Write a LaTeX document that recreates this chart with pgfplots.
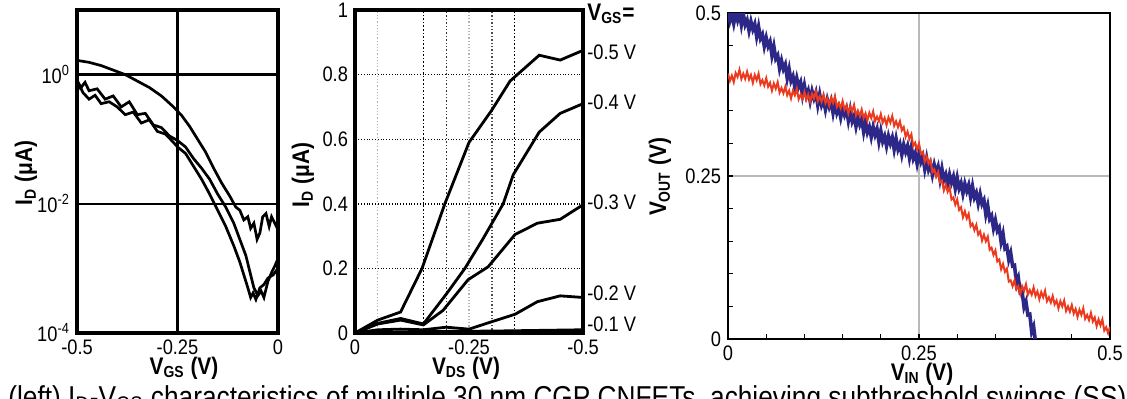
\documentclass[border=0pt]{standalone}
\usepackage{fontspec}
\setmainfont{Liberation Sans}[FakeStretch=0.87]
\usepackage{pgfplots}
\pgfplotsset{compat=1.18}
\definecolor{vblue}{RGB}{45,40,135}
\definecolor{vred}{RGB}{236,58,30}

\pgfplotstableread{
x y
0.0000 0.504
0.0025 0.488
0.0050 0.498
0.0075 0.484
0.0100 0.500
0.0125 0.489
0.0150 0.500
0.0175 0.482
0.0200 0.499
0.0225 0.482
0.0250 0.489
0.0275 0.473
0.0300 0.487
0.0325 0.475
0.0350 0.483
0.0375 0.464
0.0400 0.479
0.0425 0.461
0.0450 0.467
0.0475 0.449
0.0500 0.462
0.0525 0.449
0.0550 0.456
0.0575 0.435
0.0600 0.449
0.0625 0.430
0.0650 0.435
0.0675 0.415
0.0700 0.427
0.0725 0.414
0.0750 0.421
0.0775 0.400
0.0800 0.414
0.0825 0.396
0.0850 0.403
0.0875 0.386
0.0900 0.400
0.0925 0.387
0.0950 0.394
0.0975 0.374
0.1000 0.389
0.1025 0.373
0.1050 0.381
0.1075 0.365
0.1100 0.380
0.1125 0.369
0.1150 0.378
0.1175 0.359
0.1200 0.375
0.1225 0.359
0.1250 0.367
0.1275 0.352
0.1300 0.367
0.1325 0.356
0.1350 0.365
0.1375 0.347
0.1400 0.363
0.1425 0.347
0.1450 0.355
0.1475 0.340
0.1500 0.355
0.1525 0.344
0.1550 0.353
0.1575 0.335
0.1600 0.351
0.1625 0.334
0.1650 0.342
0.1675 0.326
0.1700 0.341
0.1725 0.329
0.1750 0.337
0.1775 0.318
0.1800 0.334
0.1825 0.317
0.1850 0.325
0.1875 0.310
0.1900 0.325
0.1925 0.313
0.1950 0.322
0.1975 0.303
0.2000 0.319
0.2025 0.303
0.2050 0.311
0.2075 0.296
0.2100 0.311
0.2125 0.300
0.2150 0.309
0.2175 0.291
0.2200 0.307
0.2225 0.291
0.2250 0.299
0.2275 0.283
0.2300 0.298
0.2325 0.287
0.2350 0.296
0.2375 0.278
0.2400 0.294
0.2425 0.277
0.2450 0.285
0.2475 0.269
0.2500 0.284
0.2525 0.272
0.2550 0.280
0.2575 0.261
0.2600 0.277
0.2625 0.260
0.2650 0.268
0.2675 0.252
0.2700 0.267
0.2725 0.255
0.2750 0.264
0.2775 0.245
0.2800 0.261
0.2825 0.244
0.2850 0.252
0.2875 0.237
0.2900 0.252
0.2925 0.240
0.2950 0.249
0.2975 0.231
0.3000 0.247
0.3025 0.231
0.3050 0.239
0.3075 0.223
0.3100 0.238
0.3125 0.227
0.3150 0.236
0.3175 0.218
0.3200 0.234
0.3225 0.217
0.3250 0.224
0.3275 0.208
0.3300 0.222
0.3325 0.207
0.3350 0.213
0.3375 0.191
0.3400 0.204
0.3425 0.184
0.3450 0.189
0.3475 0.170
0.3500 0.182
0.3525 0.166
0.3550 0.171
0.3575 0.149
0.3600 0.161
0.3625 0.139
0.3650 0.142
0.3675 0.122
0.3700 0.132
0.3725 0.112
0.3750 0.113
0.3775 0.086
0.3800 0.094
0.3825 0.071
0.3850 0.072
0.3875 0.049
0.3900 0.057
0.3925 0.037
0.3950 0.038
0.3975 0.011
0.4000 0.019
0.4020 0.000
}\bluedata

\pgfplotstableread{
x y
0.0000 0.407
0.0025 0.396
0.0050 0.404
0.0075 0.394
0.0100 0.408
0.0125 0.402
0.0150 0.413
0.0175 0.399
0.0200 0.407
0.0225 0.399
0.0250 0.410
0.0275 0.398
0.0300 0.405
0.0325 0.393
0.0350 0.405
0.0375 0.397
0.0400 0.407
0.0425 0.391
0.0450 0.397
0.0475 0.389
0.0500 0.400
0.0525 0.387
0.0550 0.393
0.0575 0.381
0.0600 0.392
0.0625 0.384
0.0650 0.394
0.0675 0.378
0.0700 0.385
0.0725 0.377
0.0750 0.387
0.0775 0.374
0.0800 0.381
0.0825 0.369
0.0850 0.381
0.0875 0.374
0.0900 0.384
0.0925 0.368
0.0950 0.375
0.0975 0.368
0.1000 0.379
0.1025 0.367
0.1050 0.375
0.1075 0.364
0.1100 0.376
0.1125 0.369
0.1150 0.380
0.1175 0.365
0.1200 0.372
0.1225 0.364
0.1250 0.375
0.1275 0.362
0.1300 0.369
0.1325 0.358
0.1350 0.370
0.1375 0.362
0.1400 0.372
0.1425 0.356
0.1450 0.362
0.1475 0.354
0.1500 0.365
0.1525 0.352
0.1550 0.358
0.1575 0.346
0.1600 0.357
0.1625 0.349
0.1650 0.359
0.1675 0.343
0.1700 0.350
0.1725 0.342
0.1750 0.352
0.1775 0.339
0.1800 0.346
0.1825 0.335
0.1850 0.347
0.1875 0.339
0.1900 0.349
0.1925 0.334
0.1950 0.341
0.1975 0.334
0.2000 0.345
0.2025 0.332
0.2050 0.339
0.2075 0.328
0.2100 0.340
0.2125 0.332
0.2150 0.342
0.2175 0.327
0.2200 0.334
0.2225 0.325
0.2250 0.334
0.2275 0.320
0.2300 0.325
0.2325 0.310
0.2350 0.318
0.2375 0.307
0.2400 0.314
0.2425 0.296
0.2450 0.301
0.2475 0.291
0.2500 0.300
0.2525 0.284
0.2550 0.287
0.2575 0.272
0.2600 0.280
0.2625 0.269
0.2650 0.275
0.2675 0.256
0.2700 0.260
0.2725 0.249
0.2750 0.256
0.2775 0.240
0.2800 0.243
0.2825 0.228
0.2850 0.237
0.2875 0.226
0.2900 0.233
0.2925 0.214
0.2950 0.217
0.2975 0.206
0.3000 0.214
0.3025 0.198
0.3050 0.202
0.3075 0.187
0.3100 0.196
0.3125 0.185
0.3150 0.192
0.3175 0.173
0.3200 0.177
0.3225 0.167
0.3250 0.175
0.3275 0.160
0.3300 0.165
0.3325 0.151
0.3350 0.160
0.3375 0.150
0.3400 0.157
0.3425 0.137
0.3450 0.140
0.3475 0.129
0.3500 0.136
0.3525 0.119
0.3550 0.122
0.3575 0.107
0.3600 0.115
0.3625 0.103
0.3650 0.108
0.3675 0.088
0.3700 0.090
0.3725 0.081
0.3750 0.090
0.3775 0.076
0.3800 0.081
0.3825 0.069
0.3850 0.081
0.3875 0.074
0.3900 0.084
0.3925 0.068
0.3950 0.075
0.3975 0.068
0.4000 0.079
0.4025 0.066
0.4050 0.073
0.4075 0.061
0.4100 0.072
0.4125 0.064
0.4150 0.074
0.4175 0.058
0.4200 0.064
0.4225 0.056
0.4250 0.066
0.4275 0.053
0.4300 0.059
0.4325 0.047
0.4350 0.058
0.4375 0.050
0.4400 0.059
0.4425 0.043
0.4450 0.050
0.4475 0.042
0.4500 0.052
0.4525 0.039
0.4550 0.046
0.4575 0.034
0.4600 0.045
0.4625 0.037
0.4650 0.047
0.4675 0.031
0.4700 0.037
0.4725 0.029
0.4750 0.040
0.4775 0.027
0.4800 0.033
0.4825 0.020
0.4850 0.030
0.4875 0.021
0.4900 0.030
0.4925 0.013
0.4950 0.018
0.4975 0.009
0.5000 0.019
}\reddata

\begin{document}
\begin{tikzpicture}
\pgfplotsset{every axis/.append style={scale only axis, anchor=south west,
  tick label style={font=\fontsize{10.5}{12}\selectfont}, major tick length=0pt}}

% ---------------- Panel 1: ID-VGS (log) ----------------
\begin{axis}[at={(38.5pt,32.5pt)}, width=100.5pt, height=161.5pt,
  xmin=-0.5, xmax=0, ymin=-4, ymax=1,
  xtick={-0.5,-0.25,0}, xticklabels={-0.5,-0.25,0},
  ytick={-4,-2,0}, yticklabels={10\textsuperscript{-4},10\textsuperscript{-2},10\textsuperscript{0}},
  grid=major, major grid style={black,line width=1.3pt},
  axis line style={line width=1.8pt}]
\addplot[black, line width=1.35pt] table {
x L
-0.5 0.22
-0.47 0.19
-0.44 0.14
-0.41 0.07
-0.38 0.0
-0.35 -0.1
-0.32 -0.2
-0.29 -0.33
-0.26 -0.5
-0.24 -0.63
-0.22 -0.8
-0.2 -1.0
-0.18 -1.2
-0.16 -1.45
-0.14 -1.68
-0.12 -1.88
-0.105 -2.05
-0.095 -2.1
-0.085 -2.25
-0.075 -2.2
-0.068 -2.38
-0.06 -2.3
-0.052 -2.55
-0.045 -2.45
-0.038 -2.2
-0.03 -2.15
-0.022 -2.35
-0.016 -2.2
-0.008 -2.3
0 -2.4
};
\addplot[black, line width=1.35pt] table {
x L
-0.5 -0.1
-0.49 -0.2
-0.48 -0.12
-0.47 -0.25
-0.45 -0.22
-0.43 -0.38
-0.41 -0.33
-0.39 -0.5
-0.37 -0.42
-0.35 -0.62
-0.33 -0.6
-0.31 -0.78
-0.29 -0.82
-0.27 -0.95
-0.25 -1.02
-0.23 -1.12
-0.21 -1.3
-0.19 -1.45
-0.17 -1.62
-0.15 -1.85
-0.13 -2.05
-0.11 -2.3
-0.095 -2.55
-0.08 -2.8
-0.07 -3.05
-0.06 -3.3
-0.05 -3.42
-0.042 -3.35
-0.035 -3.45
-0.025 -3.2
-0.015 -3.05
-0.007 -2.95
0 -2.85
};
\addplot[black, line width=1.35pt] table {
x L
-0.5 -0.3
-0.495 -0.15
-0.485 -0.28
-0.47 -0.38
-0.455 -0.32
-0.44 -0.45
-0.42 -0.42
-0.4 -0.5
-0.38 -0.62
-0.36 -0.58
-0.34 -0.75
-0.32 -0.7
-0.3 -0.88
-0.28 -0.92
-0.26 -1.05
-0.25 -1.12
-0.23 -1.22
-0.21 -1.42
-0.19 -1.62
-0.17 -1.85
-0.15 -2.1
-0.13 -2.35
-0.11 -2.65
-0.095 -2.9
-0.085 -3.1
-0.075 -3.3
-0.068 -3.45
-0.062 -3.38
-0.055 -3.48
-0.045 -3.3
-0.035 -3.25
-0.025 -3.15
-0.012 -3.1
0 -3.0
};
\end{axis}

% ---------------- Panel 2: ID-VDS ----------------
\begin{axis}[at={(177.5pt,32.5pt)}, width=114pt, height=161.5pt,
  xmin=-0.5, xmax=0, x dir=reverse, ymin=0, ymax=1,
  xtick={0,-0.25,-0.5}, xticklabels={0,-0.25,-0.5},
  ytick={0,0.2,0.4,0.6,0.8,1}, yticklabels={0,0.2,0.4,0.6,0.8,1},
  ymajorgrids, major grid style={black,densely dotted,line width=0.7pt},
  axis line style={line width=2pt}]
\draw[gray!60, densely dotted, line width=0.6pt] (axis cs:-0.05,0) -- (axis cs:-0.05,1);
\draw[black, densely dotted, line width=0.8pt] (axis cs:-0.15,0) -- (axis cs:-0.15,1);
\draw[black!80, densely dotted, line width=0.7pt] (axis cs:-0.2,0) -- (axis cs:-0.2,1);
\draw[gray!60, densely dotted, line width=0.6pt] (axis cs:-0.25,0) -- (axis cs:-0.25,1);
\draw[black!70, densely dotted, line width=0.7pt] (axis cs:-0.3,0) -- (axis cs:-0.3,1);
\draw[black, densely dotted, line width=0.8pt] (axis cs:-0.35,0) -- (axis cs:-0.35,1);
\addplot[black, line width=1.4pt] coordinates {(0,0) (-0.05,0.04) (-0.1,0.065) (-0.147,0.2) (-0.197,0.4) (-0.25,0.59) (-0.3,0.69) (-0.34,0.78) (-0.404,0.86) (-0.45,0.845) (-0.5,0.875)};
\addplot[black, line width=1.4pt] coordinates {(0,0) (-0.05,0.03) (-0.1,0.045) (-0.15,0.028) (-0.2,0.12) (-0.241,0.2) (-0.28,0.29) (-0.325,0.4) (-0.347,0.49) (-0.404,0.622) (-0.45,0.68) (-0.5,0.71)};
\addplot[black, line width=1.4pt] coordinates {(0,0) (-0.05,0.028) (-0.1,0.04) (-0.15,0.025) (-0.193,0.07) (-0.248,0.165) (-0.292,0.205) (-0.351,0.305) (-0.4,0.34) (-0.45,0.352) (-0.5,0.397)};
\addplot[black, line width=1.4pt] coordinates {(0,0) (-0.05,0.01) (-0.1,0.012) (-0.15,0.01) (-0.2,0.018) (-0.25,0.012) (-0.3,0.035) (-0.351,0.058) (-0.4,0.097) (-0.45,0.115) (-0.5,0.11)};
\addplot[black, line width=1.4pt] coordinates {(0,0) (-0.1,0.003) (-0.2,0.005) (-0.3,0.006) (-0.4,0.008) (-0.5,0.01)};
\addplot[black, line width=1.4pt] coordinates {(0,0) (-0.25,0.002) (-0.5,0.003)};
\end{axis}

% ---------------- Panel 3: VOUT-VIN ----------------
\begin{axis}[at={(364pt,29.5pt)}, width=191pt, height=163pt,
  xmin=0, xmax=0.5, ymin=0, ymax=0.5,
  xtick={0,0.25,0.5}, xticklabels={0,0.25,0.5},
  ytick={0,0.25,0.5}, yticklabels={0,0.25,0.5},
  minor xtick={0.05,0.1,0.15,0.2,0.3,0.35,0.4,0.45},
  minor ytick={0.05,0.1,0.15,0.2,0.3,0.35,0.4,0.45},
  grid=major, major grid style={gray!55,line width=0.6pt},
  tick align=inside, xtick pos=left, ytick pos=left,
  major tick length=2.5pt, minor tick length=2.5pt,
  tick style={black,line width=0.6pt},
  axis line style={line width=1.3pt}]
\addplot[vblue, line width=1.8pt] table {\bluedata};
\addplot[vred, line width=1.0pt] table {\reddata};
\end{axis}

% ---------------- labels (pixel coordinates) ----------------
\begin{scope}[x=0.5pt,y=-0.5pt,yshift=199pt]
\tikzset{lab/.style={font=\bfseries\fontsize{12}{14}\selectfont, inner sep=0pt}}
\node[lab,rotate=90] at (26,173) {I\textsubscript{D} (μA)};
\node[lab] at (184,368) {V\textsubscript{GS} (V)};
\node[lab,rotate=90] at (303,175) {I\textsubscript{D} (μA)};
\node[lab] at (466,368) {V\textsubscript{DS} (V)};
\node[lab,rotate=90] at (660,177) {V\textsubscript{OUT} (V)};
\node[lab] at (922,374) {V\textsubscript{IN} (V)};
\node[lab,anchor=west] at (587,14) {V\textsubscript{GS}=};
\tikzset{vl/.style={anchor=west, inner sep=0pt, font=\fontsize{10.5}{12}\selectfont}}
\node[vl] at (587,52) {-0.5 V};
\node[vl] at (587,102) {-0.4 V};
\node[vl] at (587,202) {-0.3 V};
\node[vl] at (587,293) {-0.2 V};
\node[vl] at (587,324) {-0.1 V};
\node[anchor=base west, inner sep=0pt, font=\fontsize{15.1}{17}\selectfont] at (8,407)
  {(left) I\textsubscript{D}-V\textsubscript{GS} characteristics of multiple 30 nm CGP CNFETs, achieving subthreshold swings (SS)};
\end{scope}
\pgfresetboundingbox
\path[use as bounding box] (0,0) rectangle (563.5pt,199pt);
\end{tikzpicture}
\end{document}
